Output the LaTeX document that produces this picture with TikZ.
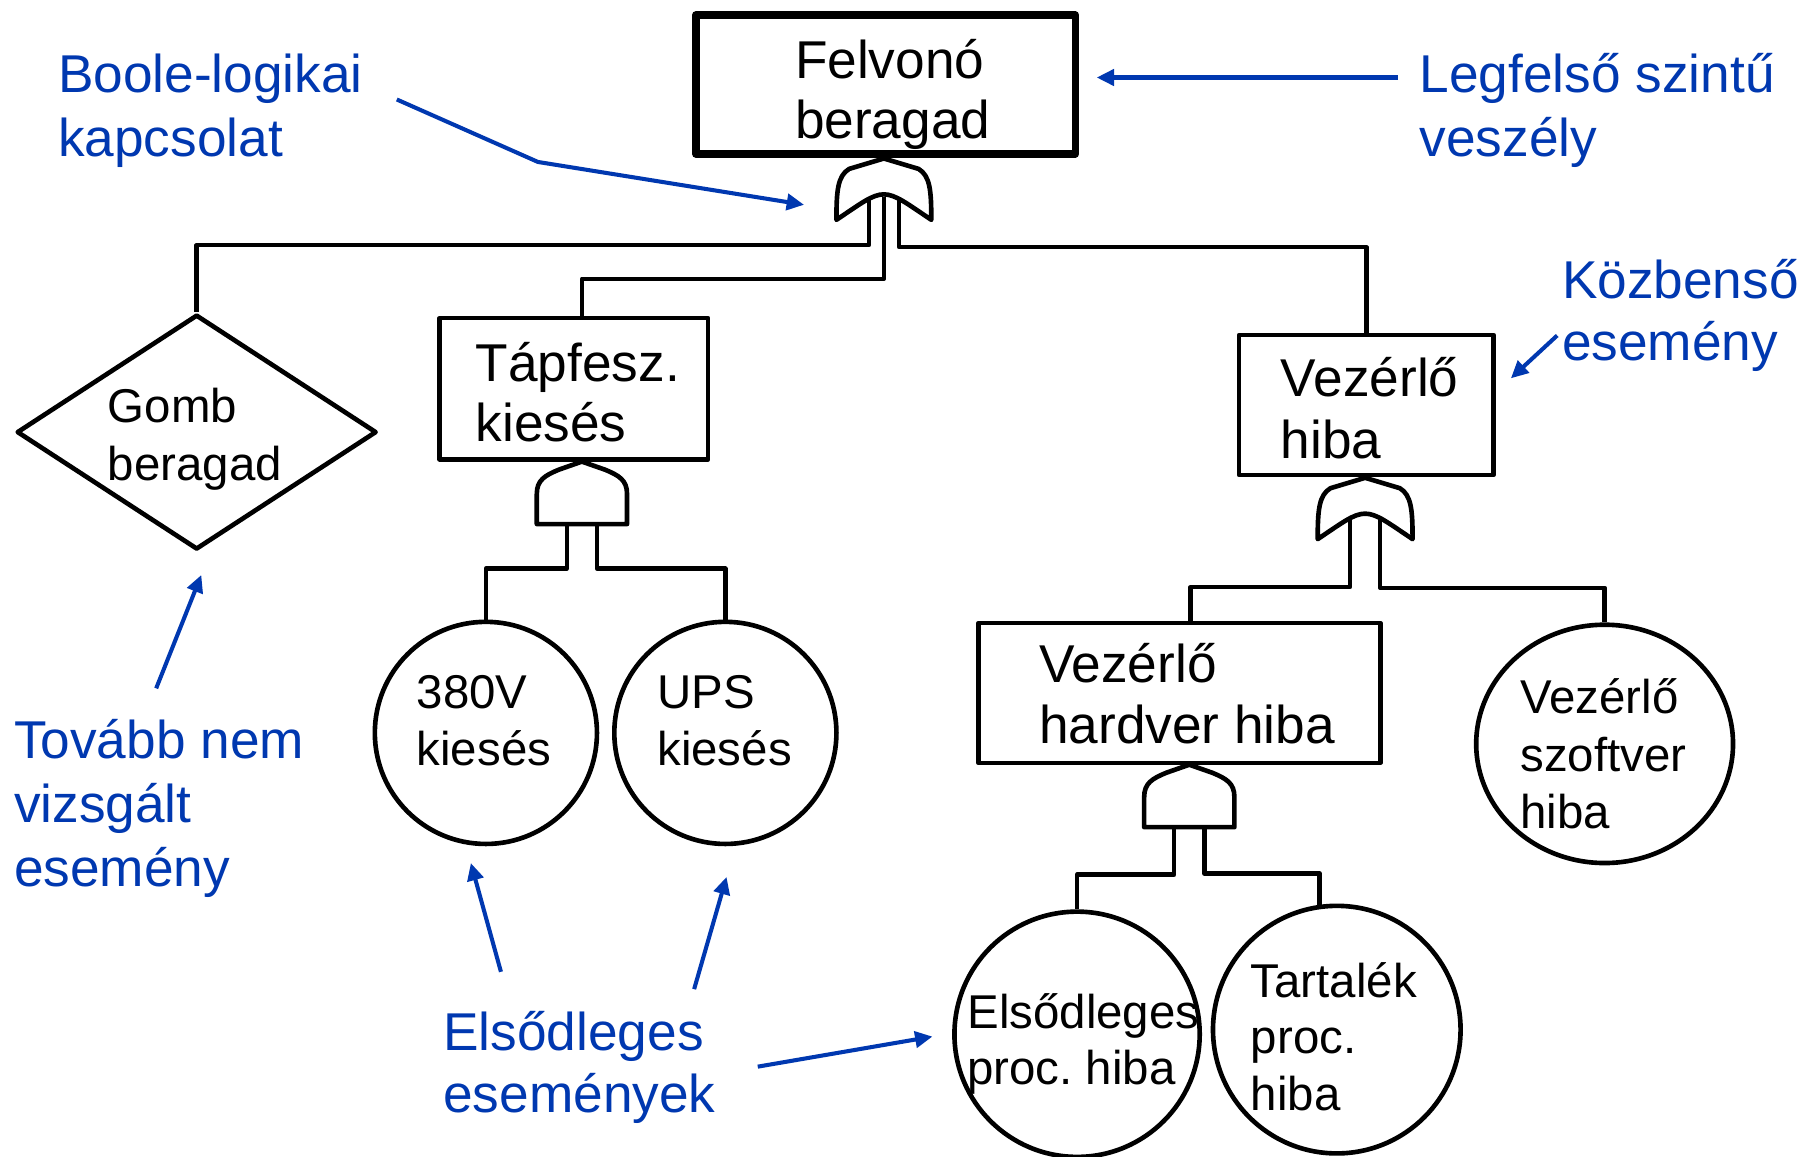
\documentclass[tikz,border=0pt]{standalone}
\usepackage{fontspec}
\setmainfont{Liberation Sans}
\usetikzlibrary{shapes.geometric,arrows.meta,calc}
\definecolor{annblue}{RGB}{0,56,176}
\frenchspacing
\begin{document}
\begin{tikzpicture}[x=1pt,y=-1pt,
  line join=round,
  conn/.style={line width=3.8pt},
  box/.style={draw, rectangle, line width=4pt, inner sep=0pt},
  ev/.style={draw, circle, line width=4pt, inner sep=0pt},
  big/.style={font=\fontsize{46}{52}\selectfont\frenchspacing, anchor=base west, align=left, inner sep=0pt},
  small/.style={font=\fontsize{41}{50}\selectfont\frenchspacing, anchor=base west, align=left, inner sep=0pt},
  ann/.style={text=annblue, font=\fontsize{46}{55}\selectfont, anchor=base west, align=left, inner sep=0pt},
  annarrow/.style={draw=annblue, line width=3.5pt, -{Triangle[length=15pt,width=14pt]}},
  gate/.style={draw, line width=4pt, fill=white},
  orgate/.pic={\draw[gate] (-41,0) .. controls (-41,-25) and (-40,-38) .. (-30,-44) -- (0,-53) -- (30,-44) .. controls (40,-38) and (41,-25) .. (41,0) .. controls (20,-14) and (10,-22) .. (0,-22) .. controls (-10,-22) and (-20,-14) .. (-41,0) -- cycle;},
  andgate/.pic={\draw[gate] (-39,0) -- (-39,-26) .. controls (-39,-38) and (-32,-42) .. (-20,-47) -- (0,-54) -- (20,-47) .. controls (32,-42) and (39,-38) .. (39,-26) -- (39,0) -- cycle;}
]
\useasboundingbox[fill=white] (0,0) rectangle (1568,1000);

% event shapes
\node[box, line width=6.5pt, minimum width=328pt, minimum height=120pt] (top) at (765.5,73) {};
\node[draw, diamond, line width=4pt, inner sep=0pt, minimum width=311pt, minimum height=203pt] (gomb) at (170,373.5) {};
\node[box, minimum width=232pt, minimum height=122pt] (tap) at (496,336) {};
\node[box, minimum width=220pt, minimum height=121pt] (vez) at (1181,350) {};
\node[box, minimum width=347pt, minimum height=121pt] (hw) at (1019.5,599) {};
\node[ev, minimum size=192pt] (v380) at (420,633.5) {};
\node[ev, minimum size=192pt] (ups) at (627,633.5) {};
\node[draw, ellipse, line width=4pt, inner sep=0pt, minimum width=222pt, minimum height=206pt] (sw) at (1387,643) {};
\node[ev, minimum size=212pt] (prim) at (931,894) {};
\node[ev, minimum size=214pt] (spare) at (1155.5,890) {};

% gate reference points (bottom centre)
\coordinate (g1) at (764,190);
\coordinate (g2) at (503,453);
\coordinate (g3) at (1180,466);
\coordinate (g4) at (1028,715);

% connectors
\draw[conn] ($(g1)+(-13,-20)$) |- ($(gomb.north)+(0,-58)$) -- (gomb.north);
\draw[conn] ($(g1)+(0,-20)$) |- ($(tap.north)+(7,-32)$) -- ($(tap.north)+(7,0)$);
\draw[conn] ($(g1)+(13,-20)$) |- ($(vez.north)+(0,-74)$) -- (vez.north);
\draw[conn] ($(g2)+(-13,0)$) |- ($(v380.north)+(0,-44)$) -- (v380.north);
\draw[conn] ($(g2)+(13,0)$) |- ($(ups.north)+(0,-44)$) -- (ups.north);
\draw[conn] ($(g3)+(-13,-20)$) |- ($(hw.north)+(9.5,-29)$) -- ($(hw.north)+(9.5,0)$);
\draw[conn] ($(g3)+(13,-20)$) |- ($(sw.north)+(0,-30)$) -- (sw.north);
\draw[conn] ($(g4)+(-13,0)$) |- ($(prim.north)+(0,-30)$) -- (prim.north);
\draw[conn] ($(g4)+(13,0)$) |- ($(spare.north)+(-15,-26)$) -- ($(spare.north)+(-15,1)$);

% gates
\pic at (g1) {orgate};
\pic at (g2) {andgate};
\pic at (g3) {orgate};
\pic at (g4) {andgate};

% texts in shapes (anchor = baseline of last line)
\node[big] (ttop) at (687,120) {Felvonó\\beragad};
\node[small] (tgomb) at (93,415) {Gomb\\beragad};
\node[big] (ttap) at (411,382) {Tápfesz.\\kiesés};
\node[big, font=\fontsize{46}{53}\selectfont] (tvez) at (1107,396) {Vezérlő\\hiba};
\node[big, font=\fontsize{46}{53}\selectfont] (thw) at (898,643) {Vezérlő\\hardver hiba};
\node[small] (tv380) at (360,662) {380V\\kiesés};
\node[small] (tups) at (568,662) {UPS\\kiesés};
\node[small, font=\fontsize{41}{49.5}\selectfont] (tsw) at (1314,716) {Vezérlő\\szoftver\\hiba};
\node[small, font=\fontsize{41}{48}\selectfont\frenchspacing] (tprim) at (836,937) {Elsődleges\\proc. hiba};
\node[small, font=\fontsize{41}{49}\selectfont\frenchspacing] (tspare) at (1081,960) {Tartalék\\proc.\\hiba};

% annotations
\node[ann] (lboole) at (50,135) {Boole-logikai\\kapcsolat};
\node[ann] (llegf) at (1227,135) {Legfelső szintű\\veszély};
\node[ann, font=\fontsize{46}{54}\selectfont] (lkozb) at (1350,312) {Közbenső\\esemény};
\node[ann] (ltovabb) at (12,766) {Tovább nem\\vizsgált\\esemény};
\node[ann, font=\fontsize{46}{54}\selectfont] (lelso) at (383,962) {Elsődleges\\események};

\coordinate (a1s) at (343,86);
\coordinate (a1m) at (465,140);
\coordinate (a1e) at (695,177);
\coordinate (a2s) at (1208,67);
\coordinate (a2e) at (948,67);
\coordinate (a3s) at (1346,290);
\coordinate (a3e) at (1306,327);
\coordinate (a4s) at (135,595);
\coordinate (a4e) at (174,497);
\coordinate (a5s) at (433,840);
\coordinate (a5e) at (407,746);
\coordinate (a6s) at (600,855);
\coordinate (a6e) at (628,758);
\coordinate (a7s) at (655,922);
\coordinate (a7e) at (806,896);

\draw[annarrow] (a1s) -- (a1m) -- (a1e);
\draw[annarrow] (a2s) -- (a2e);
\draw[annarrow] (a3s) -- (a3e);
\draw[annarrow] (a4s) -- (a4e);
\draw[annarrow] (a5s) -- (a5e);
\draw[annarrow] (a6s) -- (a6e);
\draw[annarrow] (a7s) -- (a7e);
\end{tikzpicture}
\end{document}
